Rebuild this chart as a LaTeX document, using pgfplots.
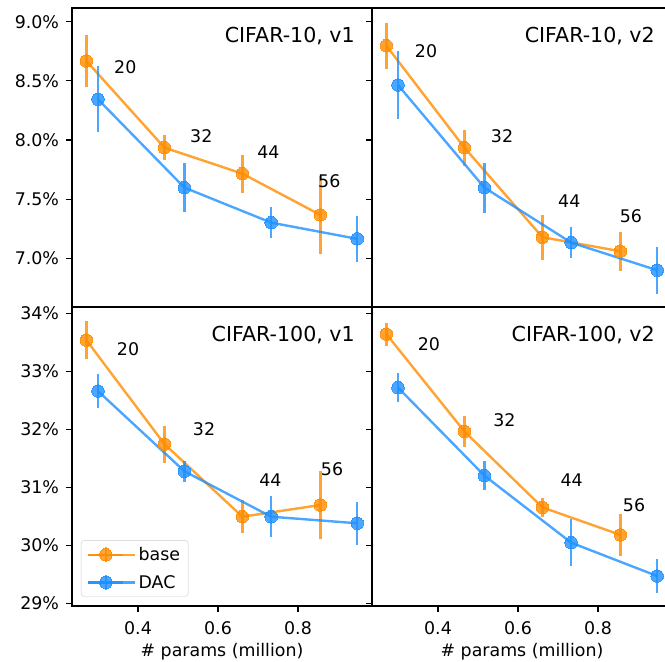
\documentclass[border=0pt]{standalone}
\usepackage{fontspec}
\setmainfont{DejaVu Sans}
\usepackage{pgfplots}
\pgfplotsset{compat=1.18}
\usepgfplotslibrary{groupplots}

\definecolor{dorange}{RGB}{255,140,0}
\definecolor{dblue}{RGB}{30,144,255}

\newcommand{\tfont}{\fontsize{17.4}{20}\selectfont}
\newcommand{\hfont}{\fontsize{20.6}{24}\selectfont}

\tikzset{
  lbl/.style={anchor=west, inner sep=0pt, font=\tfont},
  ttl/.style={anchor=base east, inner sep=0pt, font=\hfont, xshift=-17pt, yshift=-34.5pt},
}

\pgfplotsset{
  panel/.style={
    scale only axis, width=300pt, height=299pt,
    xmin=0.235, xmax=0.985,
    axis line style={line width=1.3pt},
    tick align=outside, major tick length=5.5pt,
    tick style={line width=1.2pt, black},
    xtick pos=bottom, ytick pos=left,
    tick label style={font=\tfont},
    yticklabel style={anchor=east, inner ysep=0pt, inner xsep=7.3pt},
    xticklabel style={anchor=base, inner sep=0pt, yshift=-22.5pt},
    label style={font=\tfont},
    xlabel style={at={(rel axis cs:0.5,0)}, anchor=base, inner sep=0pt, yshift=-50pt},
    /pgf/number format/assume math mode=true,
    legend image code/.code={
      \draw[mark repeat=2,mark phase=2,##1] plot coordinates {(0pt,0pt) (17.5pt,0pt) (35pt,0pt)};
      \draw[##1,mark=none] (17.5pt,-7.5pt) -- (17.5pt,7.5pt);
      \path (0pt,0pt) -- (47pt,0pt);
    },
  },
  base/.style={dorange, line width=2.4pt, opacity=0.8, mark=*, mark size=6.3pt,
    mark options={line width=0pt},
    error bars/.cd, y dir=both, y explicit, error mark=none,
    error bar style={line width=2.4pt, dorange, opacity=0.8}},
  dac/.style={dblue, line width=2.4pt, opacity=0.8, mark=*, mark size=6.3pt,
    mark options={line width=0pt},
    error bars/.cd, y dir=both, y explicit, error mark=none,
    error bar style={line width=2.4pt, dblue, opacity=0.8}},
}

\begin{document}
\begin{tikzpicture}
\begin{groupplot}[group style={group size=2 by 2, horizontal sep=0pt, vertical sep=0pt}, panel]

% CIFAR-10, v1
\nextgroupplot[ymin=6.589, ymax=9.116, ytick={7,7.5,8,8.5,9},
  yticklabels={7.0\%,7.5\%,8.0\%,8.5\%,9.0\%}, xtick=\empty]
\addplot[base] coordinates {
  (0.271,8.668) +- (0,0.22)
  (0.466,7.936) +- (0,0.105)
  (0.661,7.716) +- (0,0.16)
  (0.856,7.367) +- (0,0.33)
};
\addplot[dac] coordinates {
  (0.300,8.344) +- (0,0.28)
  (0.516,7.598) +- (0,0.21)
  (0.733,7.302) +- (0,0.13)
  (0.948,7.165) +- (0,0.195)
};
\node[lbl] at (axis cs:0.340,8.612) {20};
\node[lbl] at (axis cs:0.530,8.035) {32};
\node[lbl] at (axis cs:0.698,7.900) {44};
\node[lbl] at (axis cs:0.850,7.655) {56};
\node[ttl] at (rel axis cs:1,1) {CIFAR-10, v1};

% CIFAR-10, v2
\nextgroupplot[ymin=6.589, ymax=9.116, ytick={7,7.5,8,8.5,9},
  yticklabels={}, xtick=\empty]
\addplot[base] coordinates {
  (0.271,8.797) +- (0,0.195)
  (0.466,7.936) +- (0,0.153)
  (0.661,7.179) +- (0,0.19)
  (0.856,7.060) +- (0,0.165)
};
\addplot[dac] coordinates {
  (0.300,8.465) +- (0,0.285)
  (0.516,7.598) +- (0,0.212)
  (0.733,7.133) +- (0,0.13)
  (0.948,6.900) +- (0,0.2)
};
\node[lbl] at (axis cs:0.342,8.747) {20};
\node[lbl] at (axis cs:0.532,8.037) {32};
\node[lbl] at (axis cs:0.700,7.480) {44};
\node[lbl] at (axis cs:0.854,7.359) {56};
\node[ttl] at (rel axis cs:1,1) {CIFAR-10, v2};

% CIFAR-100, v1
\nextgroupplot[ymin=28.953, ymax=34.11, ytick={29,30,31,32,33,34},
  yticklabels={29\%,30\%,31\%,32\%,33\%,34\%},
  xtick={0.4,0.6,0.8}, xticklabels={0.4,0.6,0.8},
  xlabel={\# params (million)},
  legend style={at={(0.03,0.031)}, anchor=south west, font=\tfont,
    draw=black!20, rounded corners=3pt, inner xsep=6pt, inner ysep=5pt,
    row sep=9pt},
  legend cell align=left]
\addplot[base] coordinates {
  (0.271,33.538) +- (0,0.33)
  (0.466,31.746) +- (0,0.32)
  (0.661,30.493) +- (0,0.28)
  (0.856,30.695) +- (0,0.59)
};
\addlegendentry{base}
\addplot[dac] coordinates {
  (0.300,32.660) +- (0,0.3)
  (0.516,31.277) +- (0,0.18)
  (0.733,30.493) +- (0,0.35)
  (0.948,30.380) +- (0,0.37)
};
\addlegendentry{DAC}
\node[lbl] at (axis cs:0.347,33.382) {20};
\node[lbl] at (axis cs:0.537,32.010) {32};
\node[lbl] at (axis cs:0.703,31.116) {44};
\node[lbl] at (axis cs:0.857,31.306) {56};
\node[ttl] at (rel axis cs:1,1) {CIFAR-100, v1};

% CIFAR-100, v2
\nextgroupplot[ymin=28.953, ymax=34.11, ytick={29,30,31,32,33,34},
  yticklabels={},
  xtick={0.4,0.6,0.8}, xticklabels={0.4,0.6,0.8},
  xlabel={\# params (million)}]
\addplot[base] coordinates {
  (0.271,33.642) +- (0,0.2)
  (0.466,31.964) +- (0,0.27)
  (0.661,30.654) +- (0,0.17)
  (0.856,30.180) +- (0,0.36)
};
\addplot[dac] coordinates {
  (0.300,32.720) +- (0,0.245)
  (0.516,31.202) +- (0,0.245)
  (0.733,30.045) +- (0,0.40)
  (0.948,29.470) +- (0,0.3)
};
\node[lbl] at (axis cs:0.349,33.469) {20};
\node[lbl] at (axis cs:0.538,32.154) {32};
\node[lbl] at (axis cs:0.706,31.116) {44};
\node[lbl] at (axis cs:0.862,30.684) {56};
\node[ttl] at (rel axis cs:1,1) {CIFAR-100, v2};
\end{groupplot}
\pgfresetboundingbox
\path[use as bounding box] ([shift={(-72pt,8pt)}]group c1r1.north west) rectangle ([shift={(593pt,-654pt)}]group c1r1.north west);
\end{tikzpicture}
\end{document}
